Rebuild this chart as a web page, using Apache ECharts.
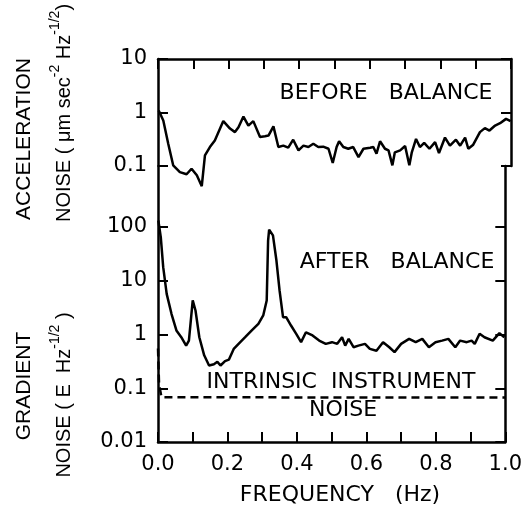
<!DOCTYPE html>
<html>
<head>
<meta charset="utf-8">
<script src="https://cdn.jsdelivr.net/npm/echarts@6/dist/echarts.min.js"></script>
<style>
  html, body { margin: 0; padding: 0; background: #fff; }
  #chart { width: 525px; height: 508px; }
</style>
</head>
<body>
<div id="chart"></div>
<script>
// Acceleration noise before balancing (upper panel)
const freqBefore = [0.002, 0.015, 0.029, 0.043, 0.062, 0.081, 0.095, 0.110, 0.124, 0.133,
  0.147, 0.161, 0.185, 0.204, 0.218, 0.228, 0.242, 0.256, 0.270, 0.289,
  0.303, 0.313, 0.327, 0.341, 0.355, 0.369, 0.383, 0.398, 0.412, 0.426,
  0.440, 0.454, 0.468, 0.483, 0.495, 0.506, 0.513, 0.525, 0.539, 0.553,
  0.568, 0.582, 0.601, 0.610, 0.619, 0.629, 0.643, 0.653, 0.664, 0.671,
  0.686, 0.700, 0.712, 0.719, 0.731, 0.742, 0.754, 0.769, 0.785, 0.796,
  0.813, 0.827, 0.844, 0.856, 0.870, 0.879, 0.893, 0.912, 0.926, 0.939,
  0.955, 0.969, 0.986, 0.999];
const noiseBefore = [1.09, 0.71, 0.26, 0.103, 0.077, 0.070, 0.089, 0.067, 0.042, 0.158,
  0.226, 0.30, 0.69, 0.50, 0.43, 0.53, 0.84, 0.57, 0.69, 0.35,
  0.36, 0.37, 0.55, 0.226, 0.24, 0.22, 0.31, 0.196, 0.24, 0.226,
  0.26, 0.226, 0.23, 0.21, 0.114, 0.226, 0.29, 0.226, 0.21, 0.226,
  0.147, 0.21, 0.22, 0.226, 0.17, 0.29, 0.21, 0.196, 0.103, 0.18,
  0.196, 0.236, 0.103, 0.18, 0.32, 0.226, 0.27, 0.21, 0.28, 0.175,
  0.34, 0.24, 0.31, 0.24, 0.34, 0.21, 0.25, 0.43, 0.51, 0.46,
  0.57, 0.63, 0.76, 0.69];

// Gradient noise after balancing (lower panel)
const freqAfter = [0.001, 0.008, 0.015, 0.025, 0.039, 0.053, 0.067, 0.081, 0.089, 0.100,
  0.108, 0.119, 0.133, 0.147, 0.161, 0.171, 0.180, 0.193, 0.204, 0.218,
  0.232, 0.251, 0.270, 0.289, 0.303, 0.313, 0.317, 0.320, 0.331, 0.341,
  0.350, 0.360, 0.369, 0.383, 0.398, 0.412, 0.426, 0.445, 0.464, 0.483,
  0.501, 0.516, 0.530, 0.539, 0.549, 0.563, 0.577, 0.596, 0.610, 0.629,
  0.648, 0.666, 0.681, 0.700, 0.723, 0.742, 0.761, 0.780, 0.799, 0.818,
  0.836, 0.856, 0.870, 0.889, 0.903, 0.912, 0.926, 0.940, 0.964, 0.983,
  0.997];
const noiseAfter = [132, 65, 17.9, 5.7, 2.4, 1.19, 0.89, 0.62, 0.77, 4.3,
  2.8, 0.89, 0.41, 0.265, 0.28, 0.31, 0.265, 0.32, 0.34, 0.54,
  0.67, 0.89, 1.19, 1.58, 2.26, 4.3, 56, 89, 70, 23.8,
  6.6, 2.1, 2.1, 1.47, 1.03, 0.72, 1.10, 0.96, 0.77, 0.67,
  0.72, 0.67, 0.89, 0.62, 0.83, 0.58, 0.62, 0.67, 0.54, 0.50,
  0.72, 0.58, 0.47, 0.67, 0.83, 0.72, 0.83, 0.58, 0.72, 0.77,
  0.83, 0.58, 0.77, 0.72, 0.77, 0.67, 1.03, 0.89, 0.77, 1.06,
  0.89];

// Intrinsic instrument noise floor
const freqIntrinsic = [0.0, 0.003, 0.010, 1.0];
const noiseIntrinsic = [0.55, 0.12, 0.068, 0.067];

// Axis ticks
const freqTicks = [0, 0.1, 0.2, 0.3, 0.4, 0.5, 0.6, 0.7, 0.8, 0.9, 1.0];
const accelTicks = [0.1, 1, 10];
const gradTicks = [0.01, 0.1, 1, 10, 100];

const pairs = (xs, ys) => xs.map((x, i) => [x, ys[i]]);
const logLabel = v => String(Number(v.toPrecision(2)));

const INK = '#000';
const LW = 2.5;
const tickFont = { fontFamily: 'DejaVu Sans', fontSize: 21, color: INK };
const axisLine = { show: true, onZero: false, lineStyle: { color: INK, width: LW } };
const tickStyle = { color: INK, width: 2 };

function yAxisDef(grid, pos, min, max, ticks, labels) {
  return {
    gridIndex: grid, type: 'log', logBase: 10, min: min, max: max, position: pos,
    axisLine: axisLine,
    axisTick: { show: true, inside: true, length: 10, customValues: ticks, lineStyle: tickStyle },
    axisLabel: labels
      ? Object.assign({ show: true, customValues: ticks, margin: 11, formatter: logLabel }, tickFont)
      : { show: false },
    splitLine: { show: false }
  };
}

const chart = echarts.init(document.getElementById('chart'), null, { renderer: 'canvas' });

const inPlot = (x, y, text) => ({
  type: 'text', x: x, y: y,
  style: { text: text, font: '22px "DejaVu Sans"', fill: INK, align: 'center', verticalAlign: 'middle' }
});
const supRich = {
  m: { fontFamily: 'Liberation Sans', fontSize: 20, fill: INK, color: INK },
  s: { fontFamily: 'Liberation Sans', fontSize: 14, fill: INK, color: INK, padding: [0, 0, 17, 0] }
};

chart.setOption({
  animation: false,
  backgroundColor: '#fff',
  grid: [
    { left: 158, right: 14, top: 59, height: 107 },
    { left: 158, right: 14, top: 166, height: 276 }
  ],
  xAxis: [
    {
      gridIndex: 0, type: 'value', min: 0, max: 1, interval: 0.1, position: 'top',
      axisLine: axisLine,
      axisTick: { show: true, inside: true, length: 10, lineStyle: tickStyle },
      axisLabel: { show: false },
      splitLine: { show: false }
    },
    {
      gridIndex: 1, type: 'value', min: 0, max: 1, interval: 0.1, position: 'bottom',
      axisLine: axisLine,
      axisTick: { show: true, inside: true, length: 10, lineStyle: tickStyle },
      axisLabel: Object.assign({
        show: true, margin: 12, showMinLabel: true, showMaxLabel: true,
        formatter: v => (Math.round(v * 10) % 2 === 0 ? v.toFixed(1) : '')
      }, tickFont),
      splitLine: { show: false }
    }
  ],
  yAxis: [
    yAxisDef(0, 'left', 0.1, 10, accelTicks, true),
    yAxisDef(0, 'right', 0.1, 10, accelTicks, false),
    yAxisDef(1, 'left', 0.01, 1365, gradTicks, true),
    yAxisDef(1, 'right', 0.01, 1365, gradTicks, false)
  ],
  series: [
    {
      name: 'Before balance', type: 'line', xAxisIndex: 0, yAxisIndex: 0,
      data: pairs(freqBefore, noiseBefore), showSymbol: false, clip: false,
      lineStyle: { color: INK, width: LW }
    },
    {
      name: 'After balance', type: 'line', xAxisIndex: 1, yAxisIndex: 2,
      data: pairs(freqAfter, noiseAfter), showSymbol: false, clip: false,
      lineStyle: { color: INK, width: LW }
    },
    {
      name: 'Intrinsic instrument noise', type: 'line', xAxisIndex: 1, yAxisIndex: 2,
      data: pairs(freqIntrinsic, noiseIntrinsic), showSymbol: false, clip: false,
      lineStyle: { color: INK, width: LW, type: [8, 5] }
    }
  ],
  graphic: [
    inPlot(386, 93, 'BEFORE   BALANCE'),
    inPlot(397, 262, 'AFTER   BALANCE'),
    inPlot(341, 382, 'INTRINSIC  INSTRUMENT'),
    inPlot(343, 410, 'NOISE'),
    inPlot(340, 495, 'FREQUENCY   (Hz)'),
    { type: 'text', x: 24, y: 139, rotation: Math.PI / 2,
      style: { text: 'ACCELERATION', font: '21px "Liberation Sans"', fill: INK, align: 'center', verticalAlign: 'middle' } },
    { type: 'text', x: 64, y: 113, rotation: Math.PI / 2,
      style: { text: '{m|NOISE ( μm sec}{s|-2}{m| Hz}{s|-1/2}{m|)}', align: 'center', verticalAlign: 'middle', rich: supRich } },
    { type: 'text', x: 24, y: 386, rotation: Math.PI / 2,
      style: { text: 'GRADIENT', font: '21px "Liberation Sans"', fill: INK, align: 'center', verticalAlign: 'middle' } },
    { type: 'text', x: 64, y: 395, rotation: Math.PI / 2,
      style: { text: '{m|NOISE ( E  Hz}{s|-1/2}{m| )}', align: 'center', verticalAlign: 'middle', rich: supRich } }
  ]
});
</script>
</body>
</html>
